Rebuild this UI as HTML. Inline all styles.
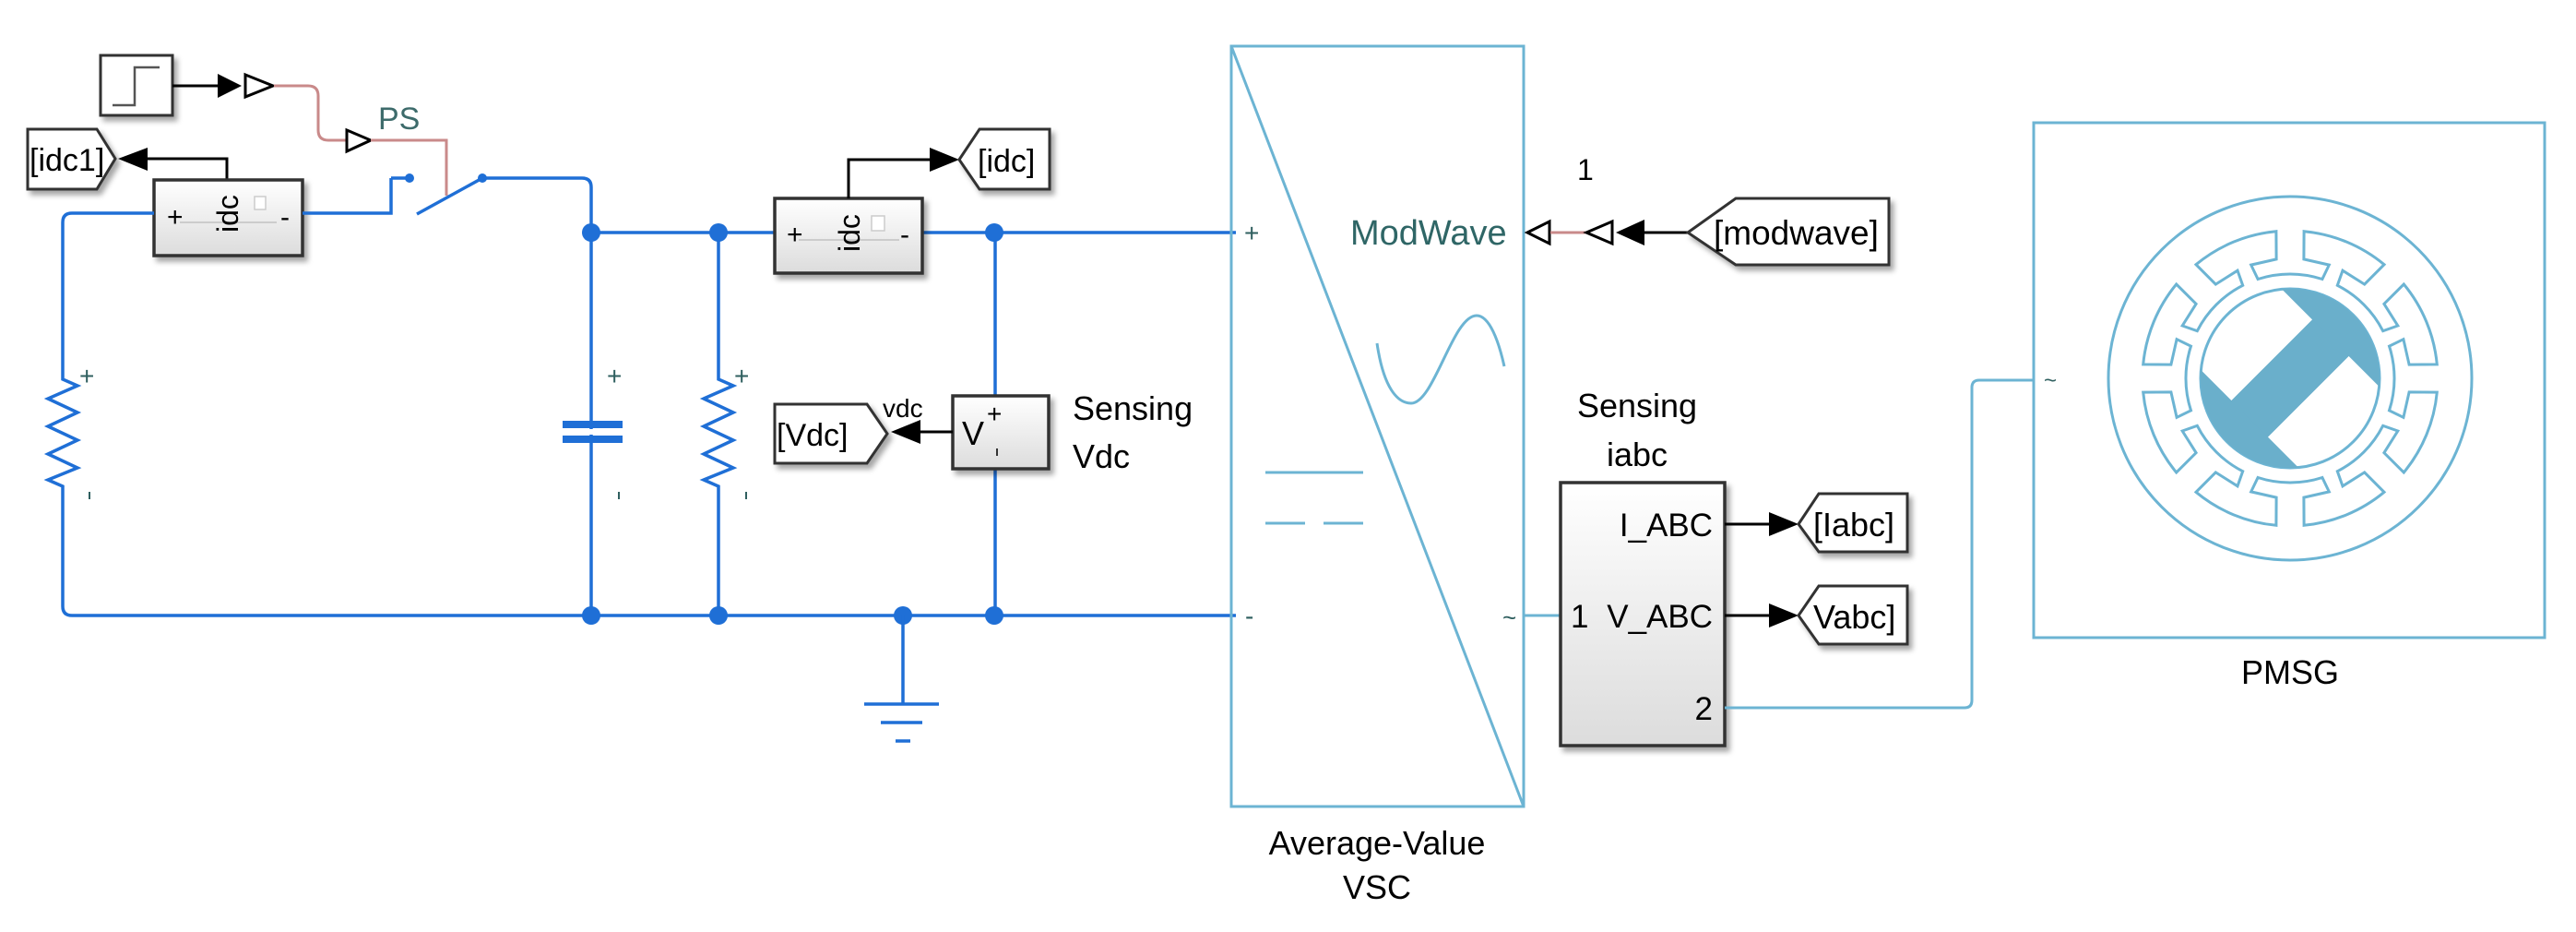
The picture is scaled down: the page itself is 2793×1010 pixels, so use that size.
<!DOCTYPE html>
<html><head><meta charset="utf-8"><style>
html,body{margin:0;padding:0;background:#fff;}
svg{display:block;}
text{font-family:"Liberation Sans",Arial,sans-serif;}
</style></head><body>
<svg width="2793" height="1010" viewBox="0 0 2793 1010" xmlns="http://www.w3.org/2000/svg">
<defs>
<linearGradient id="bg" x1="0" y1="0" x2="0" y2="1"><stop offset="0" stop-color="#ffffff"/><stop offset="1" stop-color="#dcdcdc"/></linearGradient>
<filter id="sh" x="-10%" y="-10%" width="130%" height="140%"><feDropShadow dx="4" dy="5" stdDeviation="3" flood-color="#000" flood-opacity="0.35"/></filter>
<clipPath id="rc"><circle cx="0" cy="0" r="97"/></clipPath>
</defs>
<rect width="2793" height="1010" fill="#fff"/>

<!-- Step block -->
<rect x="109" y="60" width="78" height="65" fill="#fff" stroke="#333" stroke-width="3" filter="url(#sh)"/>
<polyline points="122,114 146,114 146,73 173,73" fill="none" stroke="#555" stroke-width="2.5"/>
<line x1="187" y1="93" x2="236" y2="93" stroke="#000" stroke-width="3"/>
<polygon points="236,80 262,93 236,106" fill="#000"/>
<polygon points="266,81 296,93 266,105" fill="#fff" stroke="#000" stroke-width="3"/>
<path d="M297,93 H334 Q345,93 345,104 V141 Q345,152 356,152 H375" fill="none" stroke="#c98a8a" stroke-width="3"/>
<polygon points="376,141 402,152 376,164" fill="#fff" stroke="#000" stroke-width="3"/>
<text x="410" y="140" font-size="34" fill="#3d6b6b">PS</text>
<path d="M402,152 H484 V212" fill="none" stroke="#c98a8a" stroke-width="3"/>

<!-- idc1 tag -->
<polygon points="30,140 105,140 125,172 105,205 30,205" fill="#fff" stroke="#333" stroke-width="3" filter="url(#sh)"/>
<text x="32" y="185" font-size="34" fill="#000">[idc1]</text>
<polygon points="160,160 128,172 160,185" fill="#000"/>
<polyline points="160,172 246,172 246,195" fill="none" stroke="#000" stroke-width="3"/>

<!-- current sensor 1 -->
<rect x="167" y="195" width="161" height="82" fill="url(#bg)" stroke="#333" stroke-width="3.5" filter="url(#sh)"/>
<text x="181" y="245" font-size="30">+</text>
<text x="304" y="245" font-size="30">-</text>
<line x1="195" y1="241" x2="300" y2="241" stroke="#ccc" stroke-width="2"/>
<rect x="276" y="213" width="12" height="14" fill="#fff" stroke="#ccc" stroke-width="1.5"/>
<text transform="translate(258,252) rotate(-90)" font-size="32">idc</text>

<!-- left loop -->
<path d="M167,231 H78 Q68,231 68,241 V411 L84,418 L52,432 L84,447 L52,462 L84,477 L52,492 L84,507 L52,520 L68,527 V657 Q68,667 78,667 H1340" fill="none" stroke="#1f6fd6" stroke-width="3.5"/>
<text x="86" y="417" font-size="28" fill="#2f5f5f">+</text>
<rect x="96" y="533" width="2" height="8" fill="#2f5f5f"/>
<path d="M328,231 H424 V193" fill="none" stroke="#1f6fd6" stroke-width="3.5"/>
<circle cx="444" cy="193" r="5" fill="#1f6fd6"/>
<line x1="424" y1="193" x2="444" y2="193" stroke="#1f6fd6" stroke-width="3.5"/>
<line x1="452" y1="232" x2="523" y2="193" stroke="#1f6fd6" stroke-width="3.5"/>
<circle cx="523" cy="193" r="5" fill="#1f6fd6"/>
<path d="M523,193 H631 Q641,193 641,203 V667" fill="none" stroke="#1f6fd6" stroke-width="3.5"/>
<rect x="610" y="456" width="65" height="8" fill="#1f6fd6"/>
<rect x="610" y="472" width="65" height="8" fill="#1f6fd6"/>
<rect x="636" y="465" width="10" height="6" fill="#fff"/>
<text x="658" y="417" font-size="28" fill="#2f5f5f">+</text>
<rect x="670" y="533" width="2" height="8" fill="#2f5f5f"/>

<!-- top bus -->
<line x1="641" y1="252" x2="840" y2="252" stroke="#1f6fd6" stroke-width="3.5"/>
<line x1="1000" y1="252" x2="1340" y2="252" stroke="#1f6fd6" stroke-width="3.5"/>
<text x="1349" y="262" font-size="28" fill="#2f5f5f">+</text>
<text x="1350" y="677" font-size="28" fill="#2f5f5f">-</text>

<!-- resistor 2 -->
<path d="M779,252 V411 L795,418 L763,432 L795,447 L763,462 L795,477 L763,492 L795,507 L763,520 L779,527 V667" fill="none" stroke="#1f6fd6" stroke-width="3.5"/>
<text x="796" y="417" font-size="28" fill="#2f5f5f">+</text>
<rect x="808" y="533" width="2" height="8" fill="#2f5f5f"/>

<!-- current sensor 2 -->
<rect x="840" y="215" width="160" height="81" fill="url(#bg)" stroke="#333" stroke-width="3.5" filter="url(#sh)"/>
<text x="853" y="264" font-size="30">+</text>
<text x="976" y="264" font-size="30">-</text>
<line x1="866" y1="260" x2="975" y2="260" stroke="#ccc" stroke-width="2"/>
<rect x="945" y="234" width="14" height="16" fill="#fff" stroke="#ccc" stroke-width="1.5"/>
<text transform="translate(932,273) rotate(-90)" font-size="32">idc</text>
<polyline points="920,215 920,173 1008,173" fill="none" stroke="#000" stroke-width="3"/>
<polygon points="1008,160 1040,173 1008,186" fill="#000"/>
<polygon points="1040,173 1062,140 1138,140 1138,205 1062,205" fill="#fff" stroke="#333" stroke-width="3" filter="url(#sh)"/>
<text x="1060" y="186" font-size="34">[idc]</text>

<!-- voltage sensor -->
<line x1="1079" y1="252" x2="1079" y2="429" stroke="#1f6fd6" stroke-width="3.5"/>
<line x1="1079" y1="508" x2="1079" y2="667" stroke="#1f6fd6" stroke-width="3.5"/>
<rect x="1033" y="429" width="104" height="79" fill="url(#bg)" stroke="#333" stroke-width="3.5" filter="url(#sh)"/>
<text x="1043" y="482" font-size="36">V</text>
<text x="1070" y="458" font-size="28">+</text>
<rect x="1080" y="486" width="2" height="8" fill="#333"/>
<line x1="1033" y1="468" x2="998" y2="468" stroke="#000" stroke-width="3"/>
<polygon points="998,455 966,468 998,481" fill="#000"/>
<polygon points="840,438 940,438 962,470 940,502 840,502" fill="#fff" stroke="#333" stroke-width="3" filter="url(#sh)"/>
<text x="842" y="483" font-size="34">[Vdc]</text>
<text x="957" y="452" font-size="28">vdc</text>
<text x="1163" y="455" font-size="36">Sensing</text>
<text x="1163" y="507" font-size="36">Vdc</text>

<!-- nodes -->
<g fill="#1f6fd6">
<circle cx="641" cy="252" r="10"/><circle cx="779" cy="252" r="10"/><circle cx="1078" cy="252" r="10"/>
<circle cx="641" cy="667" r="10"/><circle cx="779" cy="667" r="10"/><circle cx="979" cy="667" r="10"/><circle cx="1078" cy="667" r="10"/>
</g>
<!-- ground -->
<line x1="979" y1="667" x2="979" y2="763" stroke="#1f6fd6" stroke-width="3.5"/>
<line x1="937" y1="763" x2="1018" y2="763" stroke="#1f6fd6" stroke-width="3.5"/>
<line x1="955" y1="783" x2="1000" y2="783" stroke="#1f6fd6" stroke-width="3.5"/>
<line x1="971" y1="803" x2="987" y2="803" stroke="#1f6fd6" stroke-width="3.5"/>

<!-- VSC -->
<g stroke="#6cb4d3" stroke-width="3" fill="none">
<rect x="1335" y="50" width="317" height="824"/>
<line x1="1335" y1="50" x2="1652" y2="874"/>
<path d="M1493,372 C1500,420 1515,437 1530,437 C1555,437 1575,342 1601,342 C1615,342 1625,370 1631,397"/>
<line x1="1372" y1="512" x2="1478" y2="512"/>
<line x1="1372" y1="567" x2="1415" y2="567"/>
<line x1="1435" y1="567" x2="1478" y2="567"/>
</g>
<text x="1493" y="926" font-size="36" text-anchor="middle">Average-Value</text>
<text x="1493" y="974" font-size="36" text-anchor="middle">VSC</text>
<text x="1464" y="265" font-size="38" fill="#2f6666">ModWave</text>
<polygon points="1656,252 1680,240 1680,264" fill="#fff" stroke="#000" stroke-width="3"/>
<line x1="1681" y1="252" x2="1719" y2="252" stroke="#c98a8a" stroke-width="3"/>
<polygon points="1720,252 1748,240 1748,264" fill="#fff" stroke="#000" stroke-width="3"/>
<polygon points="1752,252 1783,238 1783,266" fill="#000"/>
<line x1="1783" y1="252" x2="1830" y2="252" stroke="#000" stroke-width="3"/>
<polygon points="1830,252 1882,215 2048,215 2048,287 1882,287" fill="#fff" stroke="#333" stroke-width="3" filter="url(#sh)"/>
<text x="1858" y="265" font-size="37">[modwave]</text>
<text x="1710" y="195" font-size="32">1</text>

<!-- sensing iabc -->
<text x="1629" y="678" font-size="26" fill="#2f5f5f">~</text>
<line x1="1652" y1="667" x2="1692" y2="667" stroke="#6cb4d3" stroke-width="3"/>
<text x="1775" y="452" font-size="36" text-anchor="middle">Sensing</text>
<text x="1775" y="505" font-size="36" text-anchor="middle">iabc</text>
<rect x="1692" y="523" width="178" height="285" fill="url(#bg)" stroke="#333" stroke-width="3.5" filter="url(#sh)"/>
<text x="1857" y="581" font-size="35" text-anchor="end">I_ABC</text>
<text x="1703" y="680" font-size="35">1</text>
<text x="1857" y="680" font-size="35" text-anchor="end">V_ABC</text>
<text x="1857" y="780" font-size="35" text-anchor="end">2</text>
<line x1="1870" y1="568" x2="1918" y2="568" stroke="#000" stroke-width="3"/>
<polygon points="1918,555 1950,568 1918,581" fill="#000"/>
<polygon points="1950,568 1972,535 2068,535 2068,598 1972,598" fill="#fff" stroke="#333" stroke-width="3" filter="url(#sh)"/>
<text x="1966" y="581" font-size="36">[Iabc]</text>
<line x1="1870" y1="667" x2="1918" y2="667" stroke="#000" stroke-width="3"/>
<polygon points="1918,654 1950,667 1918,680" fill="#000"/>
<polygon points="1950,667 1972,635 2068,635 2068,698 1972,698" fill="#fff" stroke="#333" stroke-width="3" filter="url(#sh)"/>
<text x="1966" y="681" font-size="36">Vabc]</text>
<path d="M1870,767 H2130 Q2138,767 2138,759 V420 Q2138,412 2146,412 H2205" fill="none" stroke="#6cb4d3" stroke-width="3"/>

<!-- PMSG -->
<rect x="2205" y="133" width="554" height="558" fill="#fff" stroke="#6cb4d3" stroke-width="3"/>
<text x="2216" y="420" font-size="24" fill="#2f5f5f">~</text>
<text x="2483" y="741" font-size="36" text-anchor="middle">PMSG</text>
<g transform="translate(2483,410)" fill="none" stroke="#6cb4d3" stroke-width="3">
<circle r="197"/>
<circle r="97"/>
<path id="stator" d=""/>
<g clip-path="url(#rc)" transform="rotate(-45)">
<g fill="#6aafcb" stroke="none">
<rect x="-100" y="-28" width="200" height="56"/>
<rect x="62" y="-100" width="40" height="200"/>
<rect x="-102" y="-100" width="40" height="200"/>
</g>
</g>
</g>
</svg>
<script>
(function(){
function pt(r,a){a=a*Math.PI/180;return [(r*Math.sin(a)).toFixed(1),(-r*Math.cos(a)).toFixed(1)];}
var d="";
for(var k=0;k<8;k++){var t=k*45;
var seq=[[160,t-5.4],[130,t-6.6],[130,t-19],[113,t-18],[113,t+18],[130,t+19],[130,t+6.6],[160,t+5.4]];
for(var i=0;i<seq.length;i++){var q=pt(seq[i][0],seq[i][1]);
if(k==0&&i==0){d+="M"+q[0]+","+q[1];}
else if(i==0){d+=" A160,160 0 0 1 "+q[0]+","+q[1];}
else if(i==4){d+=" A113,113 0 0 1 "+q[0]+","+q[1];}
else{d+=" L"+q[0]+","+q[1];}}
}
var q0=pt(160,-5.4);d+=" A160,160 0 0 1 "+q0[0]+","+q0[1]+" Z";
document.getElementById("stator").setAttribute("d",d);
})();
</script>
</body></html>
